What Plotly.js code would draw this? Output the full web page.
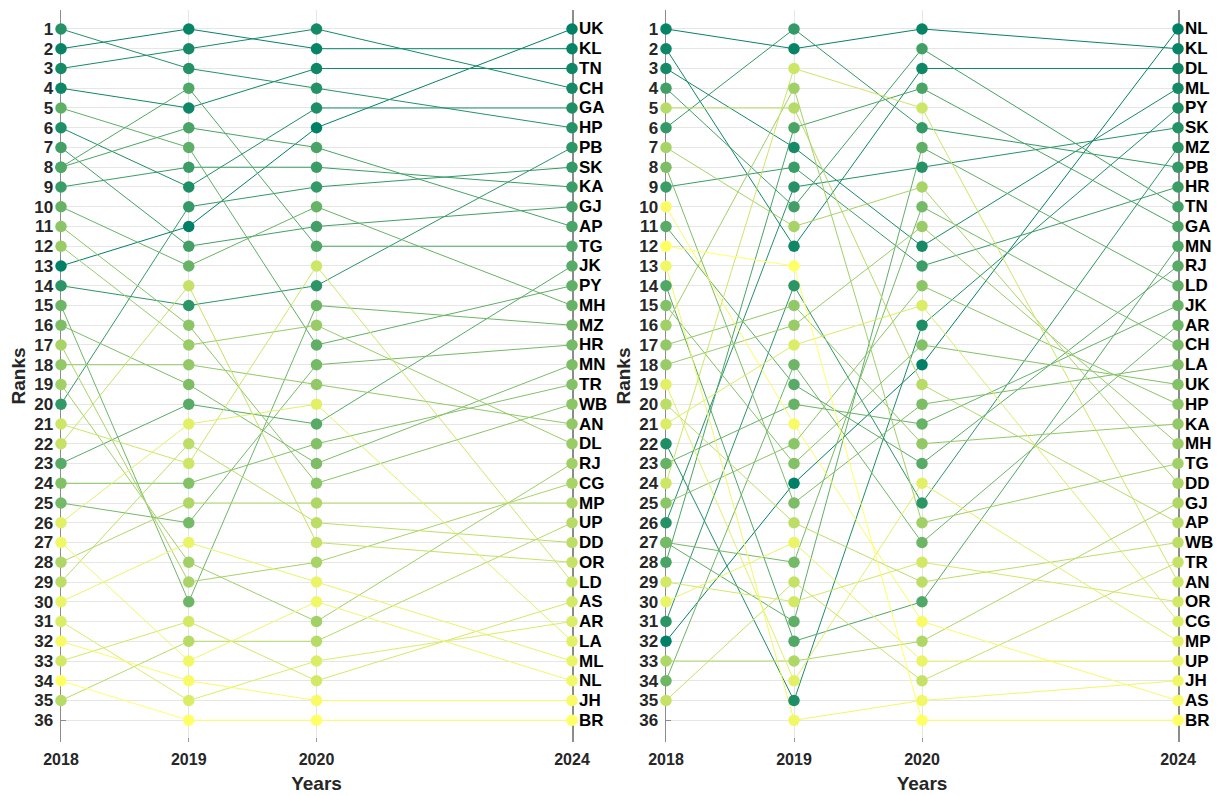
<!DOCTYPE html>
<html><head><meta charset="utf-8">
<script src="https://cdn.plot.ly/plotly-3.0.1.min.js"></script>
<style>body{margin:0;background:#fff}#chart{width:1225px;height:796px}</style>
</head><body><div id="chart"></div>
<script>
// ---- data ----
const years = ['2018', '2019', '2020', '2024'];
const yearPos = [0, 1, 2, 4];
const rankTicks = [1,2,3,4,5,6,7,8,9,10,11,12,13,14,15,16,17,18,19,20,21,22,23,24,25,26,27,28,29,30,31,32,33,34,35,36];

// Left panel
const statesL = ['UK','KL','TN','CH','GA','HP','PB','SK','KA','GJ','AP','TG','JK','PY','MH','MZ','HR','MN','TR','WB','AN','DL','RJ','CG','MP','UP','DD','OR','LD','AS','AR','LA','ML','NL','JH','BR'];
const rankL2018 = [13, 2, 4, 3, 6, 1,14,20, 9, 7, 8, 8,23, 5,10,15,25,16,24,11,18,12,19,17,28,35,29,22,21,33,31,26,30,27,32,34];
const rankL2019 = [11, 1, 5, 2, 9, 3,15,10, 8,12, 6, 4,20, 7,13,30,26,19,24,16,18,17,28,29,25,32,22,14,23,31,35,21,27,33,34,36];
const rankL2020 = [ 6, 2, 3, 1, 5, 4,14, 9, 8,11, 7,12,21,17,10,15,18,23,22,24,19,16,31,28,25,32,26,27,13,34,33,20,29,30,35,36];
const rankL2024 = [ 1, 2, 3, 4, 5, 6, 7, 8, 9,10,11,12,13,14,15,16,17,18,19,20,21,22,23,24,25,26,27,28,29,30,31,32,33,34,35,36];

// Right panel
const statesR = ['NL','KL','DL','ML','PY','SK','MZ','PB','HR','TN','GA','MN','RJ','LD','JK','AR','CH','LA','UK','HP','KA','MH','TG','DD','GJ','AP','WB','TR','AN','OR','CG','MP','UP','JH','AS','BR'];
const rankR2018 = [32, 1, 2, 3,22,26,31, 6, 9, 4,28,14,11,27,23,34,27, 8,15,25,17,18,16, 7,33, 5,20,35,24,29,21,19,30,13,10,12];
const rankR2019 = [24, 2,12, 7,35, 9,14, 1, 8,10, 6,32,19,31,20,18,28,25,23,22,15,16, 4,11,33, 5,26,29, 3,30,17,34,27,36,21,13];
const rankR2020 = [18, 1, 3,12,16, 8,25, 6,13, 2, 4,30,23, 7,21,27,10,20,17,14,22,11,26, 9,32,19,29,34, 5,28,15,24,33,35,31,36];
const rankR2024 = [ 1, 2, 3, 4, 5, 6, 7, 8, 9,10,11,12,13,14,15,16,17,18,19,20,21,22,23,24,25,26,27,28,29,30,31,32,33,34,35,36];

// ---- helpers ----
function summer(rank) {
  const t = (rank - 1) / 35;
  const r = Math.round(255 * t), g = Math.round(127.5 + 127.5 * t), b = 102;
  return 'rgb(' + r + ',' + g + ',' + b + ')';
}
const FONT = 'Liberation Sans, Arial, Helvetica, sans-serif';

const traces = [];
const annotations = [];
function addPanel(states, r18, r19, r20, r24, xa, ya) {
  const mx = [], my = [], mc = [];
  for (let i = 0; i < states.length; i++) {
    const col = summer(r24[i]);
    const ys = [r18[i], r19[i], r20[i], r24[i]];
    traces.push({
      x: yearPos, y: ys, mode: 'lines', xaxis: xa, yaxis: ya,
      line: {color: col, width: 1}, hoverinfo: 'skip', showlegend: false, cliponaxis: false
    });
    for (let k = 0; k < 4; k++) { mx.push(yearPos[k]); my.push(ys[k]); mc.push(col); }
    annotations.push({
      x: yearPos[3], y: r24[i], xref: xa, yref: ya, text: states[i], showarrow: false,
      xanchor: 'left', yanchor: 'middle', xshift: 5,
      font: {family: FONT, size: 17, color: '#000', weight: 'bold'}
    });
  }
  traces.push({
    x: mx, y: my, mode: 'markers', xaxis: xa, yaxis: ya,
    marker: {color: mc, size: 11.5, line: {width: 0}}, hoverinfo: 'skip', showlegend: false, cliponaxis: false
  });
}
addPanel(statesL, rankL2018, rankL2019, rankL2020, rankL2024, 'x', 'y');
addPanel(statesR, rankR2018, rankR2019, rankR2020, rankR2024, 'x2', 'y2');

const W = 1225, H = 796;
function xaxisDef(d0, d1, anchor) {
  return {
    anchor: anchor, domain: [d0 / W, d1 / W], range: [0, 4], tickmode: 'array', tickvals: yearPos, ticktext: years,
    showgrid: true, gridcolor: '#e6e6e6', gridwidth: 1, zeroline: false, showline: false,
    ticks: 'inside', ticklen: 4, tickcolor: '#999', layer: 'below traces',
    tickfont: {family: FONT, size: 16, color: '#262626', weight: 'bold'}, ticklabelstandoff: 6,
    title: {text: 'Years', font: {family: FONT, size: 19, color: '#262626', weight: 'bold'}, standoff: 9},
    fixedrange: true, automargin: false
  };
}
function yaxisDef(anchor) {
  return {
    anchor: anchor, domain: [1 - 742 / H, 1 - 10 / H], range: [37.1, 0.04],
    tickmode: 'array', tickvals: rankTicks, ticktext: rankTicks.map(String),
    showgrid: true, gridcolor: '#e6e6e6', gridwidth: 1, zeroline: false,
    showline: true, linecolor: '#8c8c8c', linewidth: 1.5, mirror: 'ticks', layer: 'below traces',
    ticks: 'inside', ticklen: 5, tickcolor: '#8c8c8c',
    tickfont: {family: FONT, size: 17, color: '#262626', weight: 'bold'}, ticklabelstandoff: 3,
    title: {text: 'Ranks', font: {family: FONT, size: 19, color: '#262626', weight: 'bold'}, standoff: 3},
    fixedrange: true, automargin: false
  };
}
const layout = {
  width: W, height: H, margin: {l: 0, r: 0, t: 0, b: 0},
  paper_bgcolor: '#fff', plot_bgcolor: '#fff', showlegend: false,
  xaxis: xaxisDef(61, 572, 'y'), yaxis: yaxisDef('x'),
  xaxis2: xaxisDef(666, 1178, 'y2'), yaxis2: yaxisDef('x2'),
  annotations: annotations
};
Plotly.newPlot('chart', traces, layout, {displayModeBar: false, staticPlot: true});
</script>
</body></html>
